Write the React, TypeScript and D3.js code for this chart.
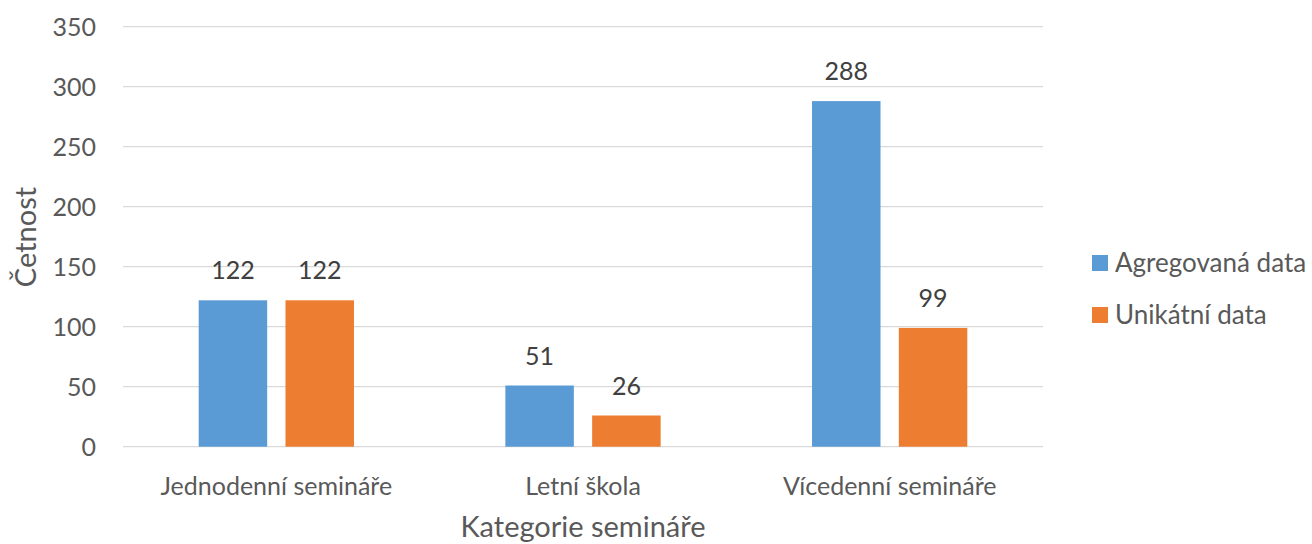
import { useEffect, useRef } from "react";
import * as d3 from "d3";

const categories = ["Jednodenní semináře", "Letní škola", "Vícedenní semináře"];
const seriesNames = ["Agregovaná data", "Unikátní data"];
const agregovana = [122, 51, 288];
const unikatni = [122, 26, 99];
const yTicks = [0, 50, 100, 150, 200, 250, 300, 350];

const colors = ["#5B9BD5", "#ED7D31"];
const FONT = "Lato, 'Open Sans', sans-serif";

export default function App() {
  const svgRef = useRef<SVGSVGElement>(null);
  const width = 1312;
  const height = 544;

  useEffect(() => {
    const svg = d3.select(svgRef.current);
    svg.selectAll("*").remove();

    const left = 123;
    const right = 1043;
    const top = 26.7;
    const bottom = 446.7;

    const x0 = d3.scaleBand().domain(categories).range([left, right]);
    const x1 = d3
      .scaleBand()
      .domain(seriesNames)
      .range([0, x0.bandwidth()])
      .paddingInner(0.211)
      .paddingOuter(0.872);
    const y = d3.scaleLinear().domain([0, 350]).range([bottom, top]);

    // gridlines
    svg
      .append("g")
      .selectAll("line")
      .data(yTicks)
      .enter()
      .append("line")
      .attr("x1", left)
      .attr("x2", right)
      .attr("y1", (d) => y(d))
      .attr("y2", (d) => y(d))
      .attr("stroke", "#D9D9D9")
      .attr("stroke-width", 1.3);

    // y tick labels
    svg
      .append("g")
      .selectAll("text")
      .data(yTicks)
      .enter()
      .append("text")
      .attr("x", 96)
      .attr("y", (d) => y(d))
      .attr("dy", "0.36em")
      .attr("text-anchor", "end")
      .attr("font-family", FONT)
      .attr("font-size", 25)
      .attr("fill", "#595959")
      .text((d) => d);

    const rows = categories.map((c, i) => ({
      category: c,
      values: [agregovana[i], unikatni[i]],
    }));

    const groups = svg
      .append("g")
      .selectAll("g")
      .data(rows)
      .enter()
      .append("g")
      .attr("transform", (d) => `translate(${x0(d.category)},0)`);

    const cells = groups
      .selectAll("g")
      .data((d) => d.values.map((v, j) => ({ name: seriesNames[j], value: v, j })))
      .enter()
      .append("g");

    cells
      .append("rect")
      .attr("x", (d) => x1(d.name)!)
      .attr("width", x1.bandwidth())
      .attr("y", (d) => y(d.value))
      .attr("height", (d) => bottom - y(d.value))
      .attr("fill", (d) => colors[d.j]);

    // data labels
    cells
      .append("text")
      .attr("x", (d) => x1(d.name)! + x1.bandwidth() / 2)
      .attr("y", (d) => y(d.value) - 21)
      .attr("text-anchor", "middle")
      .attr("font-family", FONT)
      .attr("font-size", 25)
      .attr("fill", "#404040")
      .text((d) => d.value);

    // category labels
    svg
      .append("g")
      .selectAll("text")
      .data(categories)
      .enter()
      .append("text")
      .attr("x", (d) => x0(d)! + x0.bandwidth() / 2)
      .attr("y", 495)
      .attr("text-anchor", "middle")
      .attr("font-family", FONT)
      .attr("font-size", 25)
      .attr("fill", "#595959")
      .text((d) => d);

    // axis titles
    svg
      .append("text")
      .attr("x", (left + right) / 2)
      .attr("y", 537)
      .attr("text-anchor", "middle")
      .attr("font-family", FONT)
      .attr("font-size", 29)
      .attr("fill", "#595959")
      .text("Kategorie semináře");

    svg
      .append("text")
      .attr("transform", `translate(36,237) rotate(-90)`)
      .attr("text-anchor", "middle")
      .attr("font-family", FONT)
      .attr("font-size", 29)
      .attr("fill", "#595959")
      .text("Četnost");

    // legend
    const legend = svg
      .append("g")
      .selectAll("g")
      .data(seriesNames)
      .enter()
      .append("g")
      .attr("transform", (d, i) => `translate(1092, ${263 + i * 52})`);

    legend
      .append("rect")
      .attr("x", 0)
      .attr("y", -8)
      .attr("width", 16)
      .attr("height", 16)
      .attr("fill", (d, i) => colors[i]);

    legend
      .append("text")
      .attr("x", 23)
      .attr("y", 0)
      .attr("dy", "0.36em")
      .attr("font-family", FONT)
      .attr("font-size", 26)
      .attr("fill", "#595959")
      .text((d) => d);
  }, []);

  return (
    <div style={{ position: "absolute", left: 0, top: 0 }}>
      <svg ref={svgRef} width={width} height={height} style={{ display: "block" }}></svg>
    </div>
  );
}
